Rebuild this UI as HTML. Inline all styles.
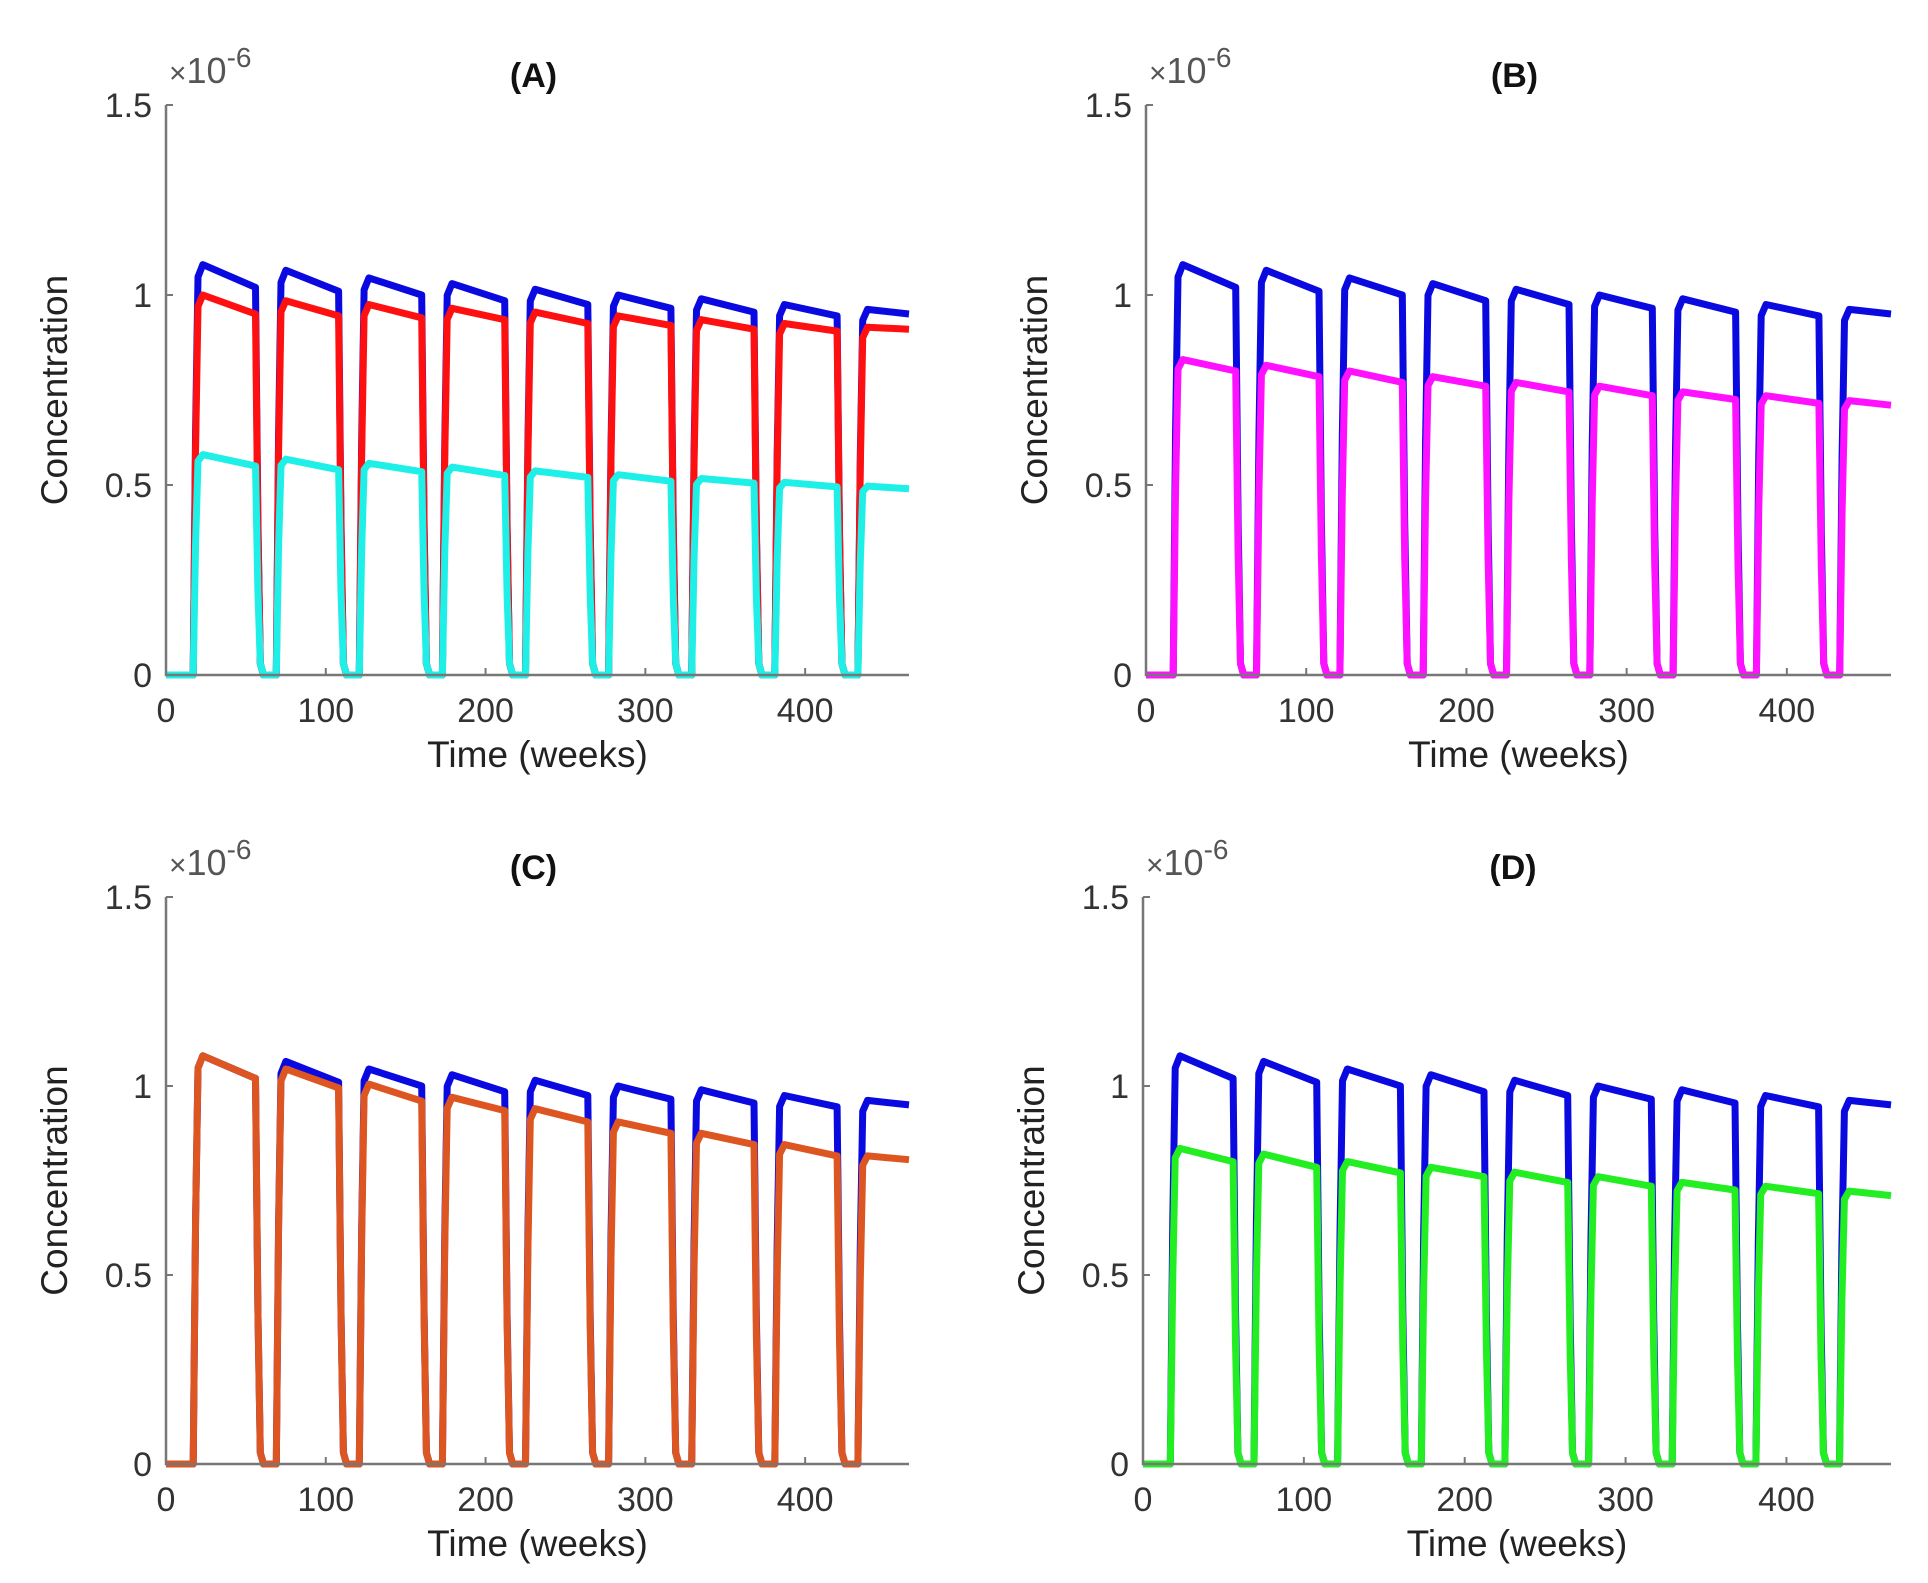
<!DOCTYPE html>
<html><head><meta charset="utf-8"><style>
body{margin:0;background:#fff}
svg{display:block;font-family:"Liberation Sans",sans-serif}
</style></head><body>
<svg id="fig" width="1928" height="1583" viewBox="0 0 1928 1583"></svg>
<script>
const xTicks=[0,100,200,300,400];
const yTicks=[0,0.5,1,1.5];
const yTickLabels=["0","0.5","1","1.5"];
const rises=[17,69,121,173,225,277,329,381,433];
const drops=[56,108,160,212,264,316,368,420,465];
const blueStart=[1.08,1.065,1.045,1.03,1.015,1.0,0.99,0.975,0.962];
const blueEnd=[1.02,1.01,1.0,0.985,0.975,0.965,0.955,0.945,0.95];
const redStart=[1.0,0.985,0.975,0.965,0.955,0.945,0.935,0.925,0.915];
const redEnd=[0.95,0.945,0.94,0.935,0.925,0.92,0.91,0.905,0.91];
const cyanStart=[0.58,0.568,0.557,0.547,0.537,0.527,0.517,0.507,0.497];
const cyanEnd=[0.55,0.54,0.535,0.525,0.52,0.51,0.505,0.495,0.49];
const magStart=[0.83,0.815,0.80,0.785,0.77,0.76,0.745,0.735,0.722];
const magEnd=[0.80,0.785,0.77,0.76,0.745,0.735,0.725,0.715,0.71];
const orgStart=[1.08,1.045,1.005,0.97,0.94,0.905,0.875,0.845,0.815];
const orgEnd=[1.02,0.995,0.96,0.935,0.905,0.875,0.845,0.815,0.805];
const grnStart=[0.835,0.82,0.80,0.785,0.772,0.76,0.745,0.735,0.722];
const grnEnd=[0.80,0.785,0.77,0.76,0.745,0.735,0.725,0.715,0.71];

const NS="http://www.w3.org/2000/svg";
const svg=document.getElementById('fig');
function mk(tag,attrs,parent){const e=document.createElementNS(NS,tag);for(const k in attrs)e.setAttribute(k,attrs[k]);(parent||svg).appendChild(e);return e;}

const panels=[
 {id:'a',title:'(A)',x0:166,x1:909,y0:675,y1:105,series:[[blueStart,blueEnd,'#0a0ae0'],[redStart,redEnd,'#ff1010'],[cyanStart,cyanEnd,'#1ef0e8']]},
 {id:'b',title:'(B)',x0:1146,x1:1891,y0:675,y1:105,series:[[blueStart,blueEnd,'#0a0ae0'],[magStart,magEnd,'#ff10ff']]},
 {id:'c',title:'(C)',x0:166,x1:909,y0:1464,y1:897,series:[[blueStart,blueEnd,'#0a0ae0'],[orgStart,orgEnd,'#dd5520']]},
 {id:'d',title:'(D)',x0:1143,x1:1891,y0:1464,y1:897,series:[[blueStart,blueEnd,'#0a0ae0'],[grnStart,grnEnd,'#22ee22']]}
];
const XMAX=465;
panels.forEach(p=>{
  const g=mk('g',{});
  
  
  const sx=t=>p.x0+(p.x1-p.x0)*t/XMAX;
  const sy=v=>p.y0+(p.y1-p.y0)*v/1.5;
  p.series.forEach((s,si)=>{
    const [st,en,col]=s;
    let pts=[[0,0]];
    rises.forEach((r,i)=>{
      pts.push([r,0],[r+1.5,st[i]*0.6],[r+3,st[i]*0.97],[r+6,st[i]]);
      const d=drops[i];
      if(i<rises.length-1){pts.push([d,en[i]],[d+1.5,en[i]*0.4],[d+3,0.03],[d+5,0]);}
      else pts.push([d,en[i]]);
    });
    const path=mk('path',{d:'M'+pts.map(q=>sx(q[0]).toFixed(1)+','+sy(q[1]).toFixed(1)).join('L'),fill:'none',stroke:col,'stroke-width':7,'stroke-linejoin':'round'},g);
    
    
  });
  const ax=mk('path',{d:`M${p.x0},${p.y1}V${p.y0}H${p.x1}`,fill:'none',stroke:'#777','stroke-width':2.5},g);
  
  
  xTicks.forEach(t=>{
    mk('line',{x1:sx(t),x2:sx(t),y1:p.y0,y2:p.y0-7,stroke:'#777','stroke-width':2},g);
    const tx=mk('text',{x:sx(t),y:p.y0+47,'font-size':34,'text-anchor':'middle',fill:'#333'},g);
    tx.textContent=t;
    
    
  });
  yTicks.forEach((v,i)=>{
    mk('line',{x1:p.x0,x2:p.x0+7,y1:sy(v),y2:sy(v),stroke:'#777','stroke-width':2},g);
    const ty=mk('text',{x:p.x0-14,y:sy(v)+12,'font-size':34,'text-anchor':'end',fill:'#333'},g);
    ty.textContent=yTickLabels[i];
    
    
  });
  const ex=mk('text',{x:p.x0+3,y:p.y1-22,'font-size':36,fill:'#555'},g);
  ex.innerHTML='<tspan font-size="30">×</tspan>10<tspan dy="-16" font-size="28">-6</tspan>';
  
  
  const ti=mk('text',{x:(p.x0+p.x1)/2-4,y:p.y1-18,'font-size':34,'font-weight':'bold','text-anchor':'middle',fill:'#111'},g);
  ti.textContent=p.title;
  
  
  const xl=mk('text',{x:(p.x0+p.x1)/2,y:p.y0+92,'font-size':37,'text-anchor':'middle',fill:'#222'},g);
  xl.textContent='Time (weeks)';
  
  
  const cy=(p.y0+p.y1)/2;
  const yl=mk('text',{x:0,y:0,'font-size':37,'text-anchor':'middle',fill:'#222',transform:`translate(${p.x0-99},${cy}) rotate(-90)`},g);
  yl.textContent='Concentration';
  
  
});
</script>
</body></html>
